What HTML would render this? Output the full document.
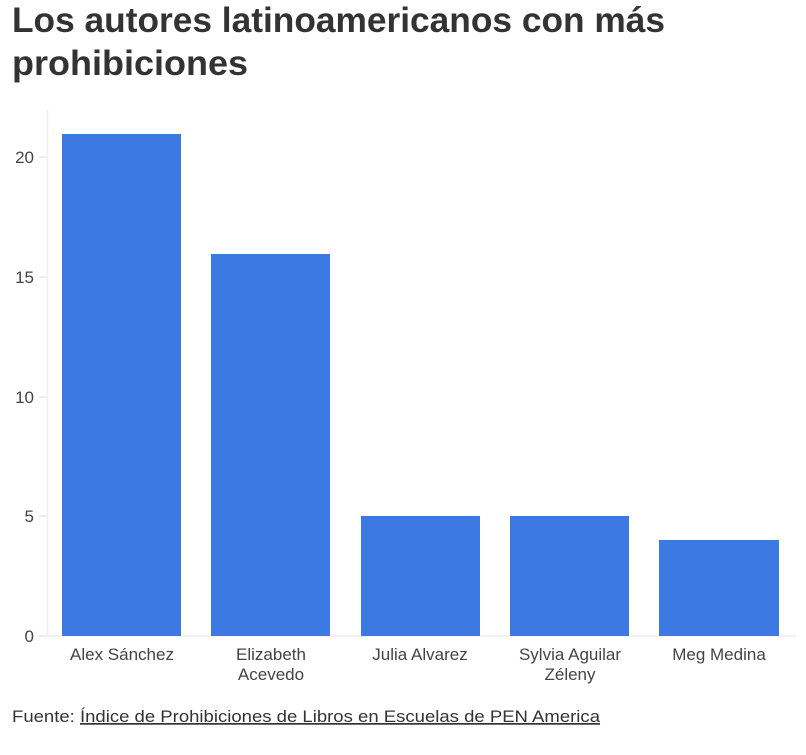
<!DOCTYPE html>
<html><head><meta charset="utf-8"><style>
body{margin:0;background:#fff;width:806px;height:750px;overflow:hidden;font-family:"Liberation Sans",sans-serif;}
</style></head><body>
<svg width="806" height="750" xmlns="http://www.w3.org/2000/svg" font-family="Liberation Sans, sans-serif">
<text x="12" y="32" font-size="35" font-weight="bold" fill="#333" textLength="653" lengthAdjust="spacingAndGlyphs">Los autores latinoamericanos con más</text>
<text x="12" y="75" font-size="35" font-weight="bold" fill="#333" textLength="236" lengthAdjust="spacingAndGlyphs">prohibiciones</text>
<line x1="47.5" y1="110" x2="47.5" y2="636" stroke="#eee" stroke-width="1.5"/>
<line x1="47" y1="636" x2="796" y2="636" stroke="#eee" stroke-width="1.5"/>
<g stroke="#e6e6e6" stroke-width="1.5">
<line x1="39" y1="157" x2="47" y2="157"/><line x1="39" y1="277" x2="47" y2="277"/>
<line x1="39" y1="397" x2="47" y2="397"/><line x1="39" y1="516" x2="47" y2="516"/>
<line x1="39" y1="636" x2="47" y2="636"/></g>
<g font-size="17" fill="#444" text-anchor="end">
<text x="34" y="163">20</text><text x="34" y="283">15</text><text x="34" y="403">10</text>
<text x="34" y="522">5</text><text x="34" y="642">0</text></g>
<g fill="#3d79e3">
<rect x="62" y="134" width="119" height="502"/>
<rect x="211" y="254" width="119" height="382"/>
<rect x="361" y="516" width="119" height="120"/>
<rect x="510" y="516" width="119" height="120"/>
<rect x="659" y="540" width="120" height="96"/></g>
<g font-size="17" fill="#444" text-anchor="middle">
<text x="122" y="660">Alex Sánchez</text>
<text x="271" y="660">Elizabeth</text><text x="271" y="680">Acevedo</text>
<text x="420" y="660">Julia Alvarez</text>
<text x="570" y="660">Sylvia Aguilar</text><text x="570" y="680">Zéleny</text>
<text x="719" y="660">Meg Medina</text></g>
<text x="12" y="722" font-size="17" fill="#333" textLength="588" lengthAdjust="spacingAndGlyphs">Fuente: <tspan text-decoration="underline">Índice de Prohibiciones de Libros en Escuelas de PEN America</tspan></text>
</svg>
</body></html>
